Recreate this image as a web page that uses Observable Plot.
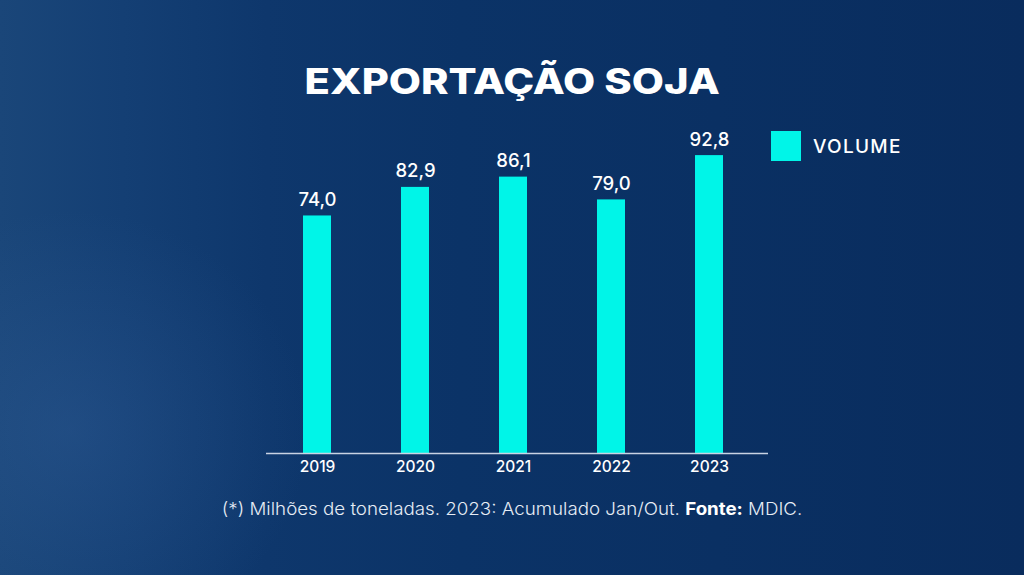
<!DOCTYPE html>
<html>
<head>
<meta charset="utf-8">
<script src="https://cdn.jsdelivr.net/npm/d3@7"></script>
<script src="https://cdn.jsdelivr.net/npm/@observablehq/plot@0.6"></script>
<style>
  html, body { margin: 0; padding: 0; }
  body { width: 1024px; height: 575px; overflow: hidden; font-family: Inter, "Noto Sans", sans-serif; }
  #stage {
    position: relative; width: 1024px; height: 575px; overflow: hidden;
    background:
      radial-gradient(ellipse 240px 220px at 70px 430px, rgba(55,100,160,0.30), rgba(55,100,160,0) 100%),
      linear-gradient(90deg, #1a4679 0%, #143f74 12%, #0e376c 26%, #0b3367 45%, #0a3063 70%, #092c5d 100%);
  }
  #title {
    position: absolute; left: 0; width: 1024px; top: 59px; text-align: center;
    color: #fff; font-family: Inter, sans-serif; font-weight: 800; font-size: 35px;
    line-height: 44px; transform: scaleX(1.19); transform-origin: 511px 0;
  }
  #legend { position: absolute; left: 771px; top: 131px; height: 30px; display: flex; align-items: center; }
  #legend .sw { width: 30px; height: 30px; background: #00f5e8; }
  #legend .lb { margin-left: 12px; color: #fff; font-size: 19px; font-weight: 500; letter-spacing: 1.3px; }
  #caption {
    position: absolute; left: 0; width: 1024px; top: 498px; text-align: center;
    color: #e6ecf5; font-size: 17.5px; font-weight: 300;
    transform: scaleX(1.07); transform-origin: 511px 0;
  }
  #caption b { font-weight: 700; color: #fff; }
  #chart { position: absolute; left: 0; top: 0; }
</style>
</head>
<body>
<div id="stage">
  <div id="chart"></div>
  <div id="title">EXPORTAÇÃO SOJA</div>
  <div id="legend"><div class="sw"></div><div class="lb">VOLUME</div></div>
  <div id="caption">(*) Milhões de toneladas. 2023: Acumulado Jan/Out. <b>Fonte:</b> MDIC.</div>
</div>
<script>
const years = ["2019", "2020", "2021", "2022", "2023"];
const volumes = [74.0, 82.9, 86.1, 79.0, 92.8];

const data = years.map((y, i) => ({year: y, value: volumes[i]}));
const fmt = v => v.toFixed(1).replace(".", ",");

const chart = Plot.plot({
  width: 1024,
  height: 575,
  marginLeft: 266,
  marginRight: 256,
  marginTop: 132,
  marginBottom: 122,
  style: {background: "transparent", color: "#fff", fontFamily: "Inter, sans-serif", overflow: "visible"},
  x: {domain: years, paddingInner: 0.7146, paddingOuter: 0.416, align: 0.453, label: null},
  y: {domain: [0, 100], axis: null},
  marks: [
    Plot.barY(data, {x: "year", y: "value", fill: "#00f5e8"}),
    Plot.ruleY([0], {stroke: "#c9d3e3", strokeWidth: 1.5}),
    Plot.text(data, {x: "year", y: "value", text: d => fmt(d.value), dy: -10, lineAnchor: "bottom", fill: "#fff", fontSize: 18.5, fontWeight: 500}),
    Plot.axisX({tickSize: 0, tickPadding: 7, fontSize: 15.5, fontWeight: 500, color: "#fff", label: null})
  ]
});
document.getElementById("chart").appendChild(chart);
</script>
</body>
</html>
